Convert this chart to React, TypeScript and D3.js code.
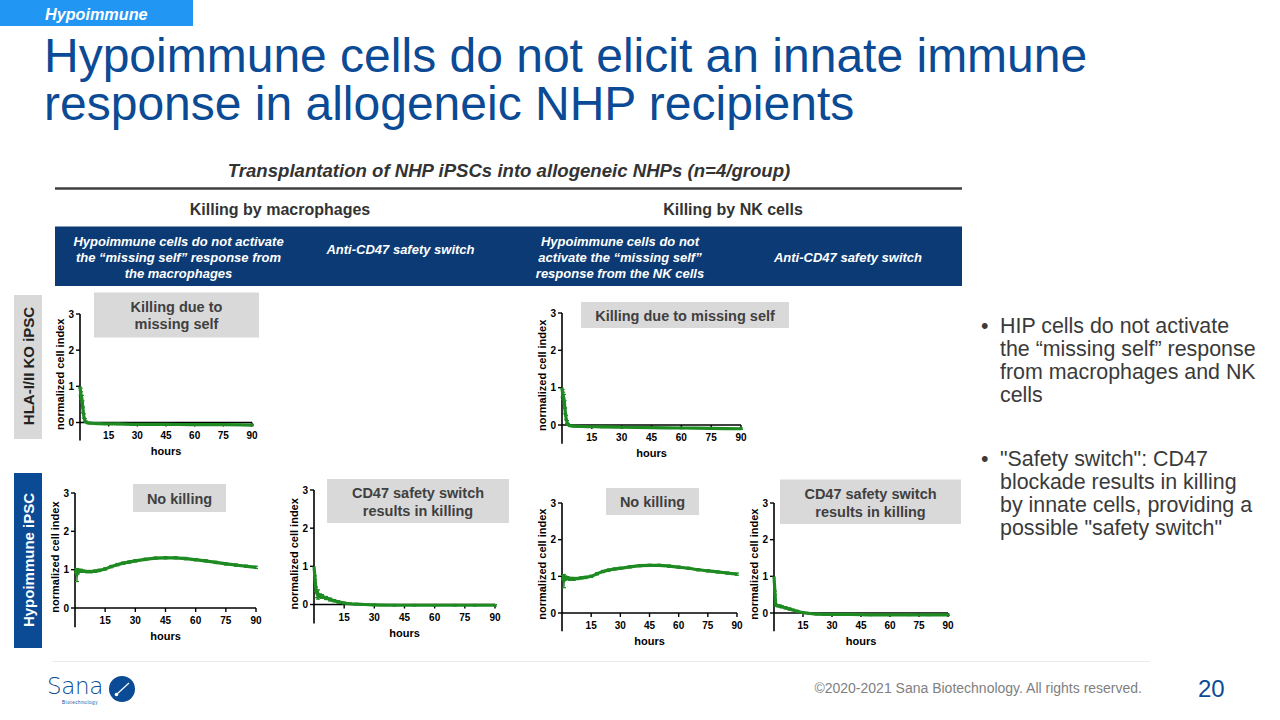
import React from "react";
import * as d3 from "d3";

const FONT = "'Liberation Sans', Arial, Helvetica, sans-serif";
const GREEN = "#1E8A22";
const NAVY = "#0B3A74";
const BRAND = "#0B4A94";
const NOTE_GRAY = "#D9D9D9";
const TEXT_DARK = "#3A3A3A";

// Shared axis ticks
const hourTicks = [15, 30, 45, 60, 75, 90];
const indexTicks = [0, 1, 2, 3];

// HLA-I/II KO iPSC co-cultured with macrophages
const koMacHours = [0, 0.3, 0.6, 1, 1.3, 1.6, 2, 2.5, 3, 4, 6, 10, 20, 30, 45, 60, 75, 90];
const koMacMean = [1.0, 0.85, 0.75, 0.65, 0.5, 0.35, 0.18, 0.07, 0.02, -0.01, -0.02, -0.03, -0.04, -0.05, -0.05, -0.06, -0.06, -0.07];
const koMacSd = [0, 0.1, 0.1, 0.1, 0.1, 0.08, 0.06, 0.04, 0.02, 0.02, 0.02, 0.02, 0.02, 0.02, 0.02, 0.02, 0.02, 0.02];

// HLA-I/II KO iPSC co-cultured with NK cells
const koNkHours = [0, 0.3, 0.6, 1, 1.3, 1.6, 2, 2.5, 3, 4, 6, 10, 20, 30, 45, 60, 75, 90];
const koNkMean = [1.0, 0.85, 0.78, 0.7, 0.55, 0.38, 0.2, 0.08, 0.02, -0.02, -0.03, -0.04, -0.05, -0.06, -0.07, -0.08, -0.09, -0.1];
const koNkSd = [0, 0.1, 0.1, 0.12, 0.1, 0.08, 0.06, 0.04, 0.02, 0.02, 0.02, 0.02, 0.02, 0.02, 0.02, 0.02, 0.02, 0.02];

// Hypoimmune iPSC co-cultured with macrophages
const hipMacHours = [0, 0.5, 1, 1.5, 2, 3, 4, 6, 8, 10, 12, 15, 18, 21, 24, 27, 30, 35, 40, 45, 50, 55, 60, 65, 70, 75, 80, 85, 90];
const hipMacMean = [1.0, 0.97, 0.86, 0.95, 0.97, 0.97, 0.96, 0.95, 0.95, 0.96, 0.98, 1.02, 1.08, 1.13, 1.17, 1.2, 1.23, 1.27, 1.3, 1.31, 1.31, 1.29, 1.26, 1.23, 1.19, 1.15, 1.12, 1.09, 1.06];
const hipMacSd = [0, 0.05, 0.17, 0.06, 0.04, 0.04, 0.03, 0.03, 0.03, 0.03, 0.03, 0.03, 0.03, 0.03, 0.03, 0.03, 0.03, 0.03, 0.03, 0.03, 0.03, 0.03, 0.03, 0.03, 0.03, 0.03, 0.03, 0.03, 0.03];

// Hypoimmune iPSC + macrophages + anti-CD47
const cd47MacHours = [0, 0.5, 1, 1.5, 2, 3, 4, 6, 8, 10, 12, 15, 18, 21, 25, 30, 40, 50, 60, 70, 80, 90];
const cd47MacMean = [1.0, 0.7, 0.4, 0.28, 0.26, 0.23, 0.21, 0.17, 0.13, 0.1, 0.07, 0.04, 0.02, 0.01, 0.0, -0.01, -0.02, -0.02, -0.02, -0.02, -0.02, -0.02];
const cd47MacSd = [0, 0.05, 0.06, 0.1, 0.12, 0.05, 0.05, 0.04, 0.04, 0.03, 0.03, 0.02, 0.02, 0.02, 0.02, 0.02, 0.02, 0.02, 0.02, 0.02, 0.02, 0.02];

// Hypoimmune iPSC co-cultured with NK cells
const hipNkHours = [0, 0.5, 1, 1.5, 2, 3, 4, 5, 6, 8, 10, 12, 15, 18, 21, 24, 27, 30, 35, 40, 45, 50, 55, 60, 65, 70, 75, 80, 85, 90];
const hipNkMean = [1.0, 0.97, 0.87, 0.95, 0.96, 0.95, 0.93, 0.93, 0.93, 0.94, 0.96, 0.97, 1.0, 1.07, 1.13, 1.17, 1.2, 1.22, 1.26, 1.29, 1.3, 1.3, 1.28, 1.25, 1.22, 1.18, 1.15, 1.12, 1.09, 1.06];
const hipNkSd = [0, 0.05, 0.18, 0.06, 0.04, 0.04, 0.04, 0.04, 0.04, 0.03, 0.03, 0.03, 0.03, 0.03, 0.03, 0.03, 0.03, 0.03, 0.03, 0.03, 0.03, 0.03, 0.03, 0.03, 0.03, 0.03, 0.03, 0.03, 0.03, 0.03];

// Hypoimmune iPSC + NK cells + anti-CD47
const cd47NkHours = [0, 0.5, 1, 2, 3, 4, 6, 8, 10, 12, 15, 18, 22, 30, 40, 50, 60, 70, 80, 90];
const cd47NkMean = [1.0, 0.55, 0.21, 0.2, 0.19, 0.17, 0.14, 0.11, 0.08, 0.05, 0.01, -0.01, -0.03, -0.04, -0.04, -0.05, -0.05, -0.05, -0.05, -0.05];
const cd47NkSd = [0, 0.05, 0.03, 0.03, 0.03, 0.03, 0.03, 0.03, 0.02, 0.02, 0.02, 0.02, 0.02, 0.02, 0.02, 0.02, 0.02, 0.02, 0.02, 0.02];

type Point = { h: number; m: number; s: number };

function toPoints(hours: number[], mean: number[], sd: number[]): Point[] {
  return hours.map((h, i) => ({ h, m: mean[i], s: sd[i] }));
}

function CellIndexPlot(props: {
  points: Point[];
  left: number;
  right: number;
  top: number;
  zero: number;
}) {
  const { points, left, right, top, zero } = props;
  const x = d3.scaleLinear().domain([0, 90]).range([left, right]);
  const y = d3.scaleLinear().domain([0, 3]).range([zero, top]);
  const line = d3
    .line<Point>()
    .x((d) => x(d.h))
    .y((d) => y(d.m))
    .curve(d3.curveMonotoneX);
  const band = d3
    .area<Point>()
    .x((d) => x(d.h))
    .y0((d) => y(d.m - d.s))
    .y1((d) => y(d.m + d.s))
    .curve(d3.curveMonotoneX);
  const yBottom = y(-0.5);
  const midY = (y(3) + yBottom) / 2 - 3;
  return (
    <g fontFamily={FONT} fontWeight="bold" fill="#000">
      {/* axes */}
      <line x1={left} x2={left} y1={y(3)} y2={yBottom} stroke="#000" strokeWidth={1.6} />
      <line x1={left} x2={right} y1={zero} y2={zero} stroke="#000" strokeWidth={1.6} />
      {indexTicks.map((t) => (
        <g key={"y" + t}>
          <line x1={left - 4} x2={left} y1={y(t)} y2={y(t)} stroke="#000" strokeWidth={1.4} />
          <text x={left - 6} y={y(t) + 3.6} fontSize={10} textAnchor="end">
            {t}
          </text>
        </g>
      ))}
      {hourTicks.map((t) => (
        <g key={"x" + t}>
          <line x1={x(t)} x2={x(t)} y1={zero} y2={zero + 4} stroke="#000" strokeWidth={1.4} />
          <text x={x(t)} y={zero + 16} fontSize={10} textAnchor="middle">
            {t}
          </text>
        </g>
      ))}
      <text x={(left + right) / 2} y={zero + 32} fontSize={11} textAnchor="middle">
        hours
      </text>
      <text
        transform={`translate(${left - 16.5},${midY}) rotate(-90)`}
        fontSize={11}
        textAnchor="middle"
      >
        normalized cell index
      </text>
      {/* series */}
      <path d={band(points) ?? ""} fill={GREEN} opacity={0.9} />
      {points
        .filter((p) => p.s > 0)
        .map((p, i) => (
          <g key={"e" + i} stroke={GREEN} strokeWidth={1.2}>
            <line x1={x(p.h)} x2={x(p.h)} y1={y(p.m - p.s)} y2={y(p.m + p.s)} />
            <line x1={x(p.h) - 2} x2={x(p.h) + 2} y1={y(p.m - p.s)} y2={y(p.m - p.s)} />
            <line x1={x(p.h) - 2} x2={x(p.h) + 2} y1={y(p.m + p.s)} y2={y(p.m + p.s)} />
          </g>
        ))}
      <path d={line(points) ?? ""} fill="none" stroke={GREEN} strokeWidth={3.2} strokeLinejoin="round" />
    </g>
  );
}

function NoteBox(props: { x: number; y: number; w: number; h: number; lines: string[]; baselines: number[] }) {
  const { x, y, w, h, lines, baselines } = props;
  return (
    <g>
      <rect x={x} y={y} width={w} height={h} fill={NOTE_GRAY} />
      {lines.map((l, i) => (
        <text
          key={i}
          x={x + w / 2}
          y={baselines[i]}
          textAnchor="middle"
          fontFamily={FONT}
          fontWeight="bold"
          fontSize={14.5}
          fill="#404040"
        >
          {l}
        </text>
      ))}
    </g>
  );
}

const bulletOne = ["HIP cells do not activate", "the \u201Cmissing self\u201D response", "from macrophages and NK", "cells"];
const bulletTwo = ["\"Safety switch\": CD47", "blockade results in killing", "by innate cells, providing a", "possible \"safety switch\""];

export default function App() {
  const headerText = (lines: string[], cx: number, baselines: number[]) =>
    lines.map((l, i) => (
      <text
        key={l}
        x={cx}
        y={baselines[i]}
        textAnchor="middle"
        fontFamily={FONT}
        fontWeight="bold"
        fontStyle="italic"
        fontSize={13}
        fill="#fff"
      >
        {l}
      </text>
    ));

  return (
    <div style={{ position: "absolute", left: 0, top: 0, width: 1280, height: 720, background: "#fff" }}>
      <svg width={1280} height={720} style={{ display: "block" }}>
        <rect x={0} y={0} width={1280} height={720} fill="#fff" />

        {/* section tag */}
        <rect x={0} y={0} width={193} height={26} fill="#2196F3" />
        <text x={45} y={20} fontFamily={FONT} fontWeight="bold" fontStyle="italic" fontSize={16.2} fill="#fff">
          Hypoimmune
        </text>

        {/* title */}
        <text x={44} y={72} fontFamily={FONT} fontSize={48} fill={BRAND}>
          Hypoimmune cells do not elicit an innate immune
        </text>
        <text x={44} y={120} fontFamily={FONT} fontSize={48} fill={BRAND}>
          response in allogeneic NHP recipients
        </text>

        {/* experiment header */}
        <text x={509} y={177} textAnchor="middle" fontFamily={FONT} fontWeight="bold" fontStyle="italic" fontSize={18.6} fill="#333">
          Transplantation of NHP iPSCs into allogeneic NHPs (n=4/group)
        </text>
        <line x1={55} x2={962} y1={188.5} y2={188.5} stroke="#404040" strokeWidth={2.5} />
        <text x={280} y={215} textAnchor="middle" fontFamily={FONT} fontWeight="bold" fontSize={16} fill="#333">
          Killing by macrophages
        </text>
        <text x={733} y={215} textAnchor="middle" fontFamily={FONT} fontWeight="bold" fontSize={16} fill="#333">
          Killing by NK cells
        </text>
        <rect x={55} y={226.5} width={907} height={59.5} fill={NAVY} />
        {headerText(
          ["Hypoimmune cells do not activate", "the \u201Cmissing self\u201D response from", "the macrophages"],
          178.5,
          [245.5, 261.8, 278]
        )}
        {headerText(["Anti-CD47 safety switch"], 400.5, [253.5])}
        {headerText(
          ["Hypoimmune cells do not", "activate the \u201Cmissing self\u201D", "response from the NK cells"],
          620,
          [245.5, 261.8, 278]
        )}
        {headerText(["Anti-CD47 safety switch"], 848, [262])}

        {/* row labels */}
        <rect x={14} y={295} width={28} height={144} fill={NOTE_GRAY} />
        <text
          transform="translate(33.5,366) rotate(-90)"
          textAnchor="middle"
          fontFamily={FONT}
          fontWeight="bold"
          fontSize={15}
          fill="#222"
        >
          HLA-I/II KO iPSC
        </text>
        <rect x={14} y={473} width={28} height={175} fill={BRAND} />
        <text
          transform="translate(33.5,560) rotate(-90)"
          textAnchor="middle"
          fontFamily={FONT}
          fontWeight="bold"
          fontSize={15}
          fill="#fff"
        >
          Hypoimmune iPSC
        </text>

        {/* plots */}
        <CellIndexPlot points={toPoints(koMacHours, koMacMean, koMacSd)} left={80} right={252} top={314} zero={422.5} />
        <CellIndexPlot points={toPoints(koNkHours, koNkMean, koNkSd)} left={562} right={741} top={313} zero={425} />
        <CellIndexPlot points={toPoints(hipMacHours, hipMacMean, hipMacSd)} left={75} right={256} top={493} zero={608} />
        <CellIndexPlot points={toPoints(cd47MacHours, cd47MacMean, cd47MacSd)} left={314} right={495} top={490} zero={604.5} />
        <CellIndexPlot points={toPoints(hipNkHours, hipNkMean, hipNkSd)} left={562} right={737} top={503} zero={613} />
        <CellIndexPlot points={toPoints(cd47NkHours, cd47NkMean, cd47NkSd)} left={774} right={948} top={503} zero={613} />

        {/* plot annotations */}
        <NoteBox x={94} y={292.5} w={165} h={45} lines={["Killing due to", "missing self"]} baselines={[312, 329]} />
        <NoteBox x={581} y={302} w={208} h={26} lines={["Killing due to missing self"]} baselines={[321]} />
        <NoteBox x={133} y={484} w={93} h={28} lines={["No killing"]} baselines={[504]} />
        <NoteBox x={327} y={479} w={182} h={44} lines={["CD47 safety switch", "results in killing"]} baselines={[498, 515.5]} />
        <NoteBox x={606} y={488} w={93} h={27} lines={["No killing"]} baselines={[507]} />
        <NoteBox x={780} y={479.5} w={181} h={44.5} lines={["CD47 safety switch", "results in killing"]} baselines={[499, 517]} />

        {/* key points */}
        <g fontFamily={FONT} fontSize={21.4} fill={TEXT_DARK}>
          <text x={981} y={332.5}>{"\u2022"}</text>
          {bulletOne.map((l, i) => (
            <text key={l} x={1000} y={332.5 + i * 23.3}>
              {l}
            </text>
          ))}
          <text x={981} y={465.5}>{"\u2022"}</text>
          {bulletTwo.map((l, i) => (
            <text key={l} x={1000} y={465.5 + i * 23.3}>
              {l}
            </text>
          ))}
        </g>

        {/* footer */}
        <line x1={52} x2={1150} y1={661.5} y2={661.5} stroke="#EBEBEB" strokeWidth={1} />
        <text x={47} y={694} fontFamily={"'DejaVu Sans', sans-serif"} fontWeight={300} fontSize={23} fill={BRAND} letterSpacing={-0.3}>
          Sana
        </text>
        <text x={62} y={704} fontFamily={FONT} fontSize={4.5} fill={BRAND} letterSpacing={0.6}>
          Biotechnology
        </text>
        <circle cx={122} cy={689} r={13} fill={BRAND} />
        <line x1={117} x2={129} y1={694} y2={683} stroke="#fff" strokeWidth={1.2} />
        <circle cx={116.5} cy={694.5} r={1.8} fill="#fff" />
        <text x={1142} y={693} textAnchor="end" fontFamily={FONT} fontSize={14} fill="#808080">
          ©2020-2021 Sana Biotechnology. All rights reserved.
        </text>
        <text x={1198} y={697} fontFamily={FONT} fontSize={24} fill={BRAND}>
          20
        </text>
      </svg>
    </div>
  );
}
